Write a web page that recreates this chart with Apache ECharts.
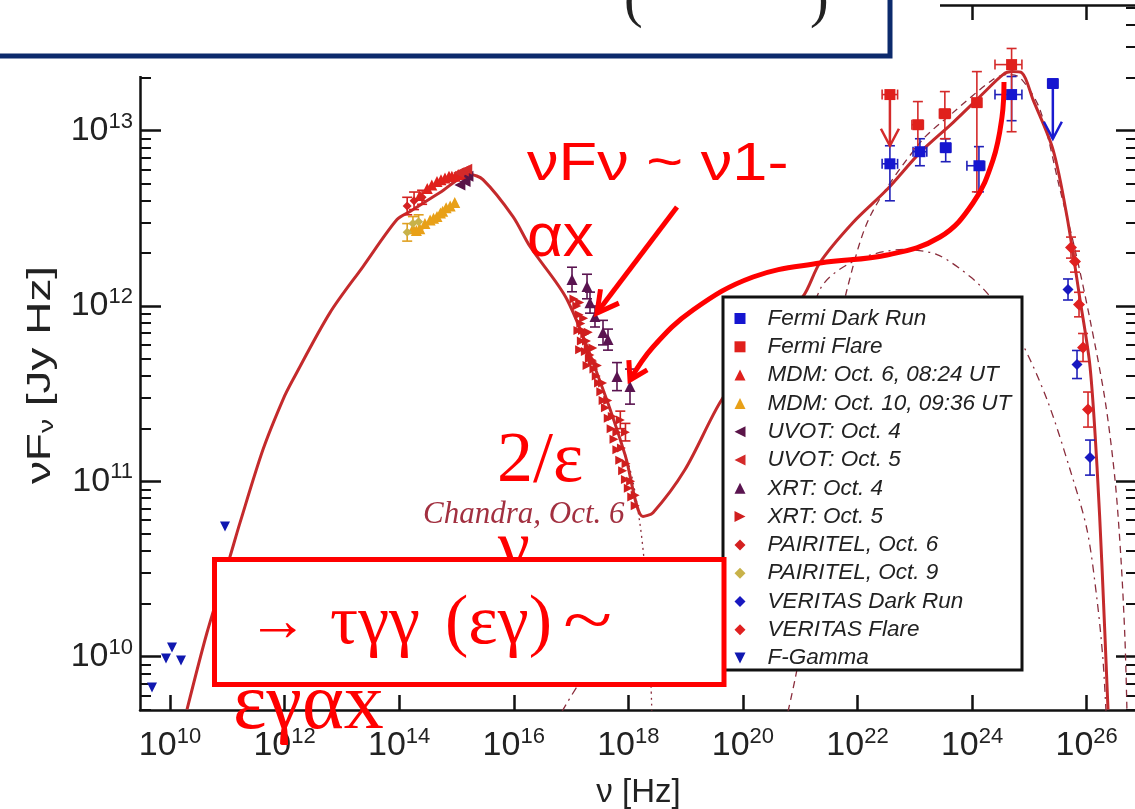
<!DOCTYPE html>
<html>
<head>
<meta charset="utf-8">
<script src="https://cdn.jsdelivr.net/npm/echarts@6.0.0/dist/echarts.min.js"></script>
<style>
html, body { margin: 0; padding: 0; background: #fff; }
#sed { width: 1135px; height: 809px; }
</style>
</head>
<body>
<div id="sed"></div>
<script>
// all values are log10 : [log nu, log nuFnu]
var X_MIN = 9.476, X_MAX = 26.879;
var Y_MIN = 9.695, Y_MAX = 13.717;
var X_TICKS = [10, 12, 14, 16, 18, 20, 22, 24, 26];
var Y_TICKS = [10, 11, 12, 13];
var MINOR_FACTORS = [2, 3, 4, 5, 6, 7, 8, 9];

// model curves
var MODEL_TOTAL = [[10.297, 9.698], [10.646, 10.137], [11.047, 10.570], [11.222, 10.764], [11.623, 11.181],
	[11.972, 11.466], [12.147, 11.580], [12.793, 11.962], [13.369, 12.225], [13.962, 12.493],
	[14.189, 12.539], [14.713, 12.647], [15.237, 12.750], [15.463, 12.721], [15.987, 12.510],
	[16.284, 12.339], [16.930, 12.037], [17.558, 11.523], [17.942, 11.152], [18.256, 10.799],
	[18.431, 10.821], [18.990, 11.067], [19.600, 11.449], [20.300, 11.780], [21.049, 12.054],
	[21.346, 12.248], [21.922, 12.476], [22.515, 12.664], [23.091, 12.875], [23.667, 13.046],
	[24.139, 13.195], [24.540, 13.320], [24.697, 13.337], [24.870, 13.330], [25.064, 13.177],
	[25.413, 12.892], [25.657, 12.510], [25.884, 12.037], [26.059, 11.654], [26.181, 11.084],
	[26.268, 10.513], [26.373, 9.698]];
var MODEL_SYNC = [[17.558, 11.512], [18.030, 11.067], [18.200, 10.764], [18.290, 10.496], [18.360, 10.154], [18.410, 9.690]];
var MODEL_EC = [[20.787, 9.686], [20.909, 9.869], [21.171, 10.325], [21.433, 11.181], [21.695, 11.865],
	[21.817, 12.094], [22.218, 12.510], [23.091, 12.932], [23.667, 13.103], [24.365, 13.292],
	[24.610, 13.320], [24.837, 13.303], [25.186, 13.120], [25.535, 12.664], [25.797, 12.322],
	[26.059, 11.922], [26.320, 11.466], [26.495, 11.010], [26.600, 10.553], [26.669, 10.097], [26.704, 9.686]];
var MODEL_SSC = [[16.842, 9.686], [17.506, 10.011], [18.378, 10.210], [19.635, 10.553], [20.648, 11.352],
	[21.346, 12.094], [21.922, 12.253], [22.795, 12.322], [23.388, 12.293], [23.964, 12.168],
	[24.313, 12.054], [24.837, 11.808], [25.308, 11.466], [25.710, 11.067], [26.006, 10.724],
	[26.181, 10.325], [26.285, 9.983], [26.338, 9.686]];

// data: [x, y, ylo, yhi, xlo, xhi]
var FERMI_DARK = [[22.566, 12.811, 12.600, 12.914, 22.43, 22.70], [23.090, 12.880, 12.800, 12.954, 22.97, 23.21],
	[23.540, 12.903, 12.823, 12.954, 23.45, 23.63], [24.120, 12.800, 12.651, 12.909, 23.91, 24.22],
	[24.690, 13.206, 13.057, 13.309, 24.40, 24.87], [25.410, 13.269, 13.269, 13.269, 25.32, 25.50]];
var FERMI_DARK_UL = [[25.410, 13.269, 12.954]];
var FERMI_FLARE = [[22.566, 13.206, 13.206, 13.206, 22.43, 22.70], [23.054, 13.034, 12.897, 13.166, 22.95, 23.15],
	[23.525, 13.097, 12.954, 13.223, 23.43, 23.62], [24.084, 13.160, 12.651, 13.337, 24.00, 24.17],
	[24.690, 13.377, 12.994, 13.469, 24.40, 24.87]];
var FERMI_FLARE_UL = [[22.566, 13.206, 12.914]];
var MDM_OCT6 = [[14.36, 12.63], [14.49, 12.67], [14.57, 12.69], [14.66, 12.71], [14.73, 12.72], [14.80, 12.73],
	[14.87, 12.74], [14.92, 12.74], [14.98, 12.74], [15.03, 12.75], [15.10, 12.75]];
var MDM_OCT10 = [[14.24, 12.44], [14.30, 12.43], [14.36, 12.44], [14.45, 12.47], [14.54, 12.49], [14.60, 12.50],
	[14.66, 12.51], [14.72, 12.53], [14.76, 12.54], [14.82, 12.56], [14.89, 12.57], [14.97, 12.59]];
var UVOT_OCT4 = [[15.06, 12.69], [15.15, 12.71], [15.20, 12.74]];
var UVOT_OCT5 = [[15.04, 12.76], [15.12, 12.77], [15.18, 12.78]];
// [x, y, err]
var XRT_OCT4 = [[17.017, 12.151, 0.07], [17.279, 12.111, 0.07], [17.331, 12.019, 0.06], [17.418, 11.940, 0.06],
	[17.558, 11.848, 0.07], [17.645, 11.808, 0.06], [17.802, 11.597, 0.08], [18.029, 11.540, 0.10]];
var XRT_OCT5 = [[17.05, 12.04], [17.10, 12.00], [17.14, 11.95], [17.17, 11.90], [17.20, 11.86], [17.24, 11.84],
	[17.27, 11.80], [17.30, 11.76], [17.33, 11.72], [17.37, 11.69], [17.40, 11.64], [17.44, 11.60],
	[17.48, 11.56], [17.52, 11.51], [17.56, 11.46], [17.60, 11.42], [17.65, 11.36], [17.70, 11.30],
	[17.75, 11.24], [17.80, 11.18], [17.85, 11.12], [17.90, 11.06], [17.95, 11.01], [18.00, 10.96],
	[18.06, 10.91], [18.12, 10.86], [17.15, 12.02], [17.22, 11.93], [17.30, 11.85], [17.38, 11.76],
	[17.46, 11.66], [17.55, 11.56], [17.64, 11.46], [17.72, 11.37], [17.80, 11.28], [17.88, 11.19],
	[17.96, 11.10], [18.04, 11.00], [18.12, 10.92], [17.12, 11.86], [17.18, 11.80], [17.25, 11.74],
	[17.32, 11.70], [17.38, 11.68], [17.15, 11.75], [17.28, 11.66]];
var XRT_OCT5_ERR = [[17.86, 11.35, 0.05], [17.95, 11.28, 0.05]];
var PAIRITEL_OCT6 = [[14.14, 12.57, 0.05], [14.26, 12.60, 0.05], [14.40, 12.62, 0.04]];
var PAIRITEL_OCT9 = [[14.14, 12.42, 0.05], [14.24, 12.47, 0.04], [14.34, 12.48, 0.04]];
var VERITAS_DARK = [[25.675, 12.094, 0.06], [25.832, 11.666, 0.08], [26.059, 11.135, 0.10]];
var VERITAS_FLARE = [[25.727, 12.333, 0.06], [25.797, 12.253, 0.06], [25.867, 12.008, 0.07],
	[25.937, 11.763, 0.08], [26.024, 11.409, 0.10]];
var F_GAMMA = [[9.686, 9.823], [9.930, 9.989], [10.035, 10.051], [10.192, 9.977], [10.960, 10.742]];

var SERIF = "'Liberation Serif', 'DejaVu Serif', serif";
var SANS = "'Liberation Sans', Arial, sans-serif";

var Y_MINOR = [];
for (var d = 9; d <= 13; d++) {
	for (var k = 0; k < MINOR_FACTORS.length; k++) {
		var v = d + Math.log10(MINOR_FACTORS[k]);
		if (v > Y_MIN && v < Y_MAX) Y_MINOR.push(v);
	}
}

function xy(rows) {
	return rows.map(function(r) { return [r[0], r[1]]; });
}
// [x, y, err] -> [x, y, ylo, yhi, xlo, xhi]
function yerr(rows) {
	return rows.map(function(r) { return [r[0], r[1], r[1] - r[2], r[1] + r[2], r[0], r[0]]; });
}

function errRender(color) {
	return function(params, api) {
		var x = api.value(0), y = api.value(1);
		var c = api.coord([x, y]);
		var lo = api.coord([x, api.value(2)]);
		var hi = api.coord([x, api.value(3)]);
		var l = api.coord([api.value(4), y]);
		var r = api.coord([api.value(5), y]);
		var st = { stroke: color, lineWidth: 1.6 };
		var cap = 5;
		var kids = [];
		if (api.value(3) > api.value(2)) {
			kids.push({ type: 'line', shape: { x1: c[0], y1: lo[1], x2: c[0], y2: hi[1] }, style: st });
			kids.push({ type: 'line', shape: { x1: c[0] - cap, y1: lo[1], x2: c[0] + cap, y2: lo[1] }, style: st });
			kids.push({ type: 'line', shape: { x1: c[0] - cap, y1: hi[1], x2: c[0] + cap, y2: hi[1] }, style: st });
		}
		if (api.value(5) > api.value(4)) {
			kids.push({ type: 'line', shape: { x1: l[0], y1: c[1], x2: r[0], y2: c[1] }, style: st });
			kids.push({ type: 'line', shape: { x1: l[0], y1: c[1] - cap, x2: l[0], y2: c[1] + cap }, style: st });
			kids.push({ type: 'line', shape: { x1: r[0], y1: c[1] - cap, x2: r[0], y2: c[1] + cap }, style: st });
		}
		return { type: 'group', children: kids };
	};
}

// upper limit arrow : [x, y, ylimit]
function ulRender(color) {
	return function(params, api) {
		var a = api.coord([api.value(0), api.value(1)]);
		var b = api.coord([api.value(0), api.value(2)]);
		var st = { stroke: color, lineWidth: 2.5, fill: null };
		return { type: 'group', children: [
			{ type: 'line', shape: { x1: a[0], y1: a[1], x2: b[0], y2: b[1] }, style: st },
			{ type: 'polyline', shape: { points: [[b[0] - 9, b[1] - 17], [b[0], b[1]], [b[0] + 9, b[1] - 17]] }, style: st }
		] };
	};
}

function errSeries(data, color) {
	return { type: 'custom', renderItem: errRender(color), data: data, encode: { x: 0, y: 1 }, z: 2, silent: true };
}
function ulSeries(data, color) {
	return { type: 'custom', renderItem: ulRender(color), data: data, encode: { x: 0, y: 1 }, z: 2, silent: true };
}
function dots(name, data, color, symbol, size, rot) {
	return { name: name, type: 'scatter', data: data, symbol: symbol, symbolSize: size, symbolRotate: rot || 0,
		itemStyle: { color: color, opacity: 1 }, z: 2 };
}
function curve(data, type, width) {
	return { type: 'line', data: data, showSymbol: false, smooth: 0.3, silent: true, z: 1,
		lineStyle: { color: width > 2 ? '#c42a2c' : '#8a2d3c', width: width, type: type } };
}

function pow10(v) {
	return '{b|10}{s|' + Math.round(v) + '}';
}
var POW_RICH = {
	b: { fontSize: 34, lineHeight: 40, fontFamily: SANS, color: '#222' },
	s: { fontSize: 22, lineHeight: 14, verticalAlign: 'top', fontFamily: SANS, color: '#222' }
};

function arrowHead(tip, prev, len, ang) {
	var a = Math.atan2(prev[1] - tip[1], prev[0] - tip[0]);
	return [[tip[0] + len * Math.cos(a + ang), tip[1] + len * Math.sin(a + ang)], tip,
		[tip[0] + len * Math.cos(a - ang), tip[1] + len * Math.sin(a - ang)]];
}

var CURVE_ARROW = [[1004, 82], [1002, 117], [993, 160], [973, 203], [940, 237], [887, 255], [820, 263],
	[753, 277], [693, 310], [653, 347], [630, 380]];

var red = '#ff0000';
// legend icons for the pointing triangles
var TRI_LEFT = 'path://M0,5L10,0L10,10Z';
var TRI_RIGHT = 'path://M10,5L0,0L0,10Z';
var TRI_DOWN = 'path://M0,0L10,0L5,10Z';
var LEGEND_ITEMS = [
	{ name: 'Fermi Dark Run' }, { name: 'Fermi Flare' }, { name: 'MDM: Oct. 6, 08:24 UT' },
	{ name: 'MDM: Oct. 10, 09:36 UT' }, { name: 'UVOT: Oct. 4', icon: TRI_LEFT }, { name: 'UVOT: Oct. 5', icon: TRI_LEFT },
	{ name: 'XRT: Oct. 4' }, { name: 'XRT: Oct. 5', icon: TRI_RIGHT }, { name: 'PAIRITEL, Oct. 6' },
	{ name: 'PAIRITEL, Oct. 9' }, { name: 'VERITAS Dark Run' }, { name: 'VERITAS Flare' }, { name: 'F-Gamma', icon: TRI_DOWN }];

function sedAxis(pos, ticks, len, labels) {
	return {
		type: 'value', position: pos, min: pos == 'top' || pos == 'bottom' ? X_MIN : Y_MIN,
		max: pos == 'top' || pos == 'bottom' ? X_MAX : Y_MAX, offset: 0,
		axisLine: { show: true, lineStyle: { color: '#111', width: 2.5 } },
		axisTick: { show: true, inside: true, length: len, customValues: ticks, lineStyle: { color: '#111', width: 2.5 } },
		axisLabel: labels ? { show: true, customValues: ticks, formatter: pow10, rich: POW_RICH,
			margin: pos == 'bottom' ? 16 : 7 } : { show: false },
		splitLine: { show: false }
	};
}

var xBottom = sedAxis('bottom', X_TICKS, 15, true);
xBottom.name = 'ν [Hz]';
xBottom.nameLocation = 'middle';
xBottom.nameGap = 66;
xBottom.nameTextStyle = { fontSize: 33, color: '#222', fontFamily: SANS };
var yLeft = sedAxis('left', Y_TICKS, 21, true);
var yLeftMinor = sedAxis('left', Y_MINOR, 11, false);
yLeftMinor.axisLine.show = false;
yLeftMinor.axisTick.lineStyle.width = 2;
var yRight = sedAxis('right', Y_TICKS, 21, false);
var yRightMinor = sedAxis('right', Y_MINOR, 11, false);
yRightMinor.axisLine.show = false;
yRightMinor.axisTick.lineStyle.width = 2;

var option = {
	animation: false,
	backgroundColor: '#fff',
	grid: { left: 140, right: -2, top: 5, bottom: 99, containLabel: false, outerBoundsMode: 'none' },
	xAxis: [xBottom, sedAxis('top', X_TICKS, 15, false)],
	yAxis: [yLeft, yLeftMinor, yRight, yRightMinor],
	legend: {
		data: LEGEND_ITEMS, orient: 'vertical', left: 734.5, top: 307, padding: 0,
		itemWidth: 11, itemHeight: 11, itemGap: 5.3, z: 4, selectedMode: false,
		textStyle: { fontFamily: SANS, fontStyle: 'italic', fontSize: 22.5, color: '#222', lineHeight: 21,
			padding: [0, 0, 0, 17] }
	},
	series: [
		curve(MODEL_SSC, [8, 5, 2, 5], 1.3),
		curve(MODEL_EC, [7, 5], 1.3),
		curve(MODEL_SYNC, [2, 4], 1.3),
		curve(MODEL_TOTAL, 'solid', 3),
		errSeries(FERMI_DARK, '#2020b8'),
		errSeries(FERMI_FLARE, '#d42a2a'),
		ulSeries(FERMI_DARK_UL, '#1a1ad0'),
		ulSeries(FERMI_FLARE_UL, '#d42a2a'),
		errSeries(yerr(XRT_OCT4), '#5a1450'),
		errSeries(yerr(XRT_OCT5_ERR), '#cc1f1f'),
		errSeries(yerr(PAIRITEL_OCT6), '#d42020'),
		errSeries(yerr(PAIRITEL_OCT9), '#e0a020'),
		errSeries(yerr(VERITAS_DARK), '#2020b8'),
		errSeries(yerr(VERITAS_FLARE), '#d42a2a'),
		dots('Fermi Dark Run', xy(FERMI_DARK), '#1515d0', 'rect', 11),
		dots('Fermi Flare', xy(FERMI_FLARE), '#e0201c', 'rect', 11),
		dots('MDM: Oct. 6, 08:24 UT', MDM_OCT6, '#e0201c', 'triangle', 11),
		dots('MDM: Oct. 10, 09:36 UT', MDM_OCT10, '#e8a018', 'triangle', 11),
		dots('UVOT: Oct. 4', UVOT_OCT4, '#5a1448', 'triangle', 11, 90),
		dots('UVOT: Oct. 5', UVOT_OCT5, '#d42a2a', 'triangle', 11, 90),
		dots('XRT: Oct. 4', xy(XRT_OCT4), '#5a1450', 'triangle', 11),
		dots('XRT: Oct. 5', XRT_OCT5.concat(xy(XRT_OCT5_ERR)), '#d01e1e', 'triangle', 9, -90),
		dots('PAIRITEL, Oct. 6', xy(PAIRITEL_OCT6), '#d42020', 'diamond', 9),
		dots('PAIRITEL, Oct. 9', xy(PAIRITEL_OCT9), '#c8b24a', 'diamond', 9),
		dots('VERITAS Dark Run', xy(VERITAS_DARK), '#1818c0', 'diamond', 11),
		dots('VERITAS Flare', xy(VERITAS_FLARE), '#e02020', 'diamond', 12),
		dots('F-Gamma', F_GAMMA, '#1018b0', 'triangle', 10, 180)
	],
	graphic: [
		// white area above the plot and the title box
		{ type: 'rect', z: 5, shape: { x: 0, y: 0, width: 940, height: 76 }, style: { fill: '#fff' } },
		{ type: 'rect', z: 6, shape: { x: -10, y: -10, width: 900, height: 66 }, style: { fill: '#fff', stroke: '#0c2a6c', lineWidth: 5 } },
		{ type: 'text', z: 7, x: 624, y: 1, style: { text: '(', font: '56px ' + SERIF, fill: '#222', verticalAlign: 'middle' } },
		{ type: 'text', z: 7, x: 810, y: 1, style: { text: ')', font: '56px ' + SERIF, fill: '#222', verticalAlign: 'middle' } },
		// y axis title
		{ type: 'text', z: 7, x: 41, y: 375, rotation: Math.PI / 2, scaleX: 1.35,
			style: { text: 'νF{sub|ν} [Jy Hz]', font: '34px ' + SANS, fill: '#222', align: 'center', verticalAlign: 'middle',
				rich: { sub: { fontSize: 21, lineHeight: 12, verticalAlign: 'bottom', fontFamily: SANS, fill: '#222' } } } },
		// legend frame
		{ type: 'rect', z: 3, shape: { x: 723, y: 297, width: 299, height: 373 }, style: { fill: '#fff', stroke: '#111', lineWidth: 3 } },
		{ type: 'text', z: 9, x: 423, y: 515, style: { text: 'Chandra, Oct. 6', font: 'italic 31px ' + SERIF, fill: '#a23040', verticalAlign: 'middle' } },
		// red annotations
		{ type: 'text', z: 11, x: 527, y: 165, scaleX: 1.17, style: { text: 'νFν ~ ν1-', font: '54px ' + SANS, fill: red, verticalAlign: 'middle' } },
		{ type: 'text', z: 11, x: 527, y: 239, style: { text: 'αx', font: '62px ' + SANS, fill: red, verticalAlign: 'middle' } },
		{ type: 'text', z: 11, x: 497, y: 462, style: { text: '2/ε', font: '72px ' + SERIF, fill: red, verticalAlign: 'middle' } },
		{ type: 'text', z: 9, x: 498, y: 551, style: { text: 'γ', font: '72px ' + SERIF, fill: red, verticalAlign: 'middle' } },
		{ type: 'rect', z: 10, shape: { x: 214.5, y: 559.5, width: 509.5, height: 125 }, style: { fill: '#fff', stroke: red, lineWidth: 5 } },
		{ type: 'text', z: 11, x: 248, y: 624, style: { text: '→', font: '60px ' + SERIF, fill: red, verticalAlign: 'middle' } },
		{ type: 'text', z: 11, x: 330, y: 625, style: { text: 'τγγ', font: '70px ' + SERIF, fill: red, verticalAlign: 'middle' } },
		{ type: 'text', z: 11, x: 445, y: 625, style: { text: '(εγ)', font: '70px ' + SERIF, fill: red, verticalAlign: 'middle' } },
		{ type: 'text', z: 11, x: 563, y: 625, scaleX: 1.3, style: { text: '~', font: '70px ' + SERIF, fill: red, verticalAlign: 'middle' } },
		{ type: 'text', z: 11, x: 233, y: 707, style: { text: 'εγαx', font: '80px ' + SERIF, fill: red, verticalAlign: 'middle' } },
		{ type: 'line', z: 11, shape: { x1: 677, y1: 207, x2: 599, y2: 310 }, style: { stroke: red, lineWidth: 5 } },
		{ type: 'polyline', z: 11, shape: { points: arrowHead([597, 313], [677, 207], 24, 0.5) }, style: { stroke: red, lineWidth: 5, fill: null } },
		{ type: 'polyline', z: 11, shape: { points: CURVE_ARROW, smooth: 0.4 }, style: { stroke: red, lineWidth: 5, fill: null } },
		{ type: 'polyline', z: 11, shape: { points: arrowHead([630, 380], [645, 352], 20, 0.55) }, style: { stroke: red, lineWidth: 5, fill: null } }
	]
};

var chart = echarts.init(document.getElementById('sed'));
chart.setOption(option);
</script>
</body>
</html>
